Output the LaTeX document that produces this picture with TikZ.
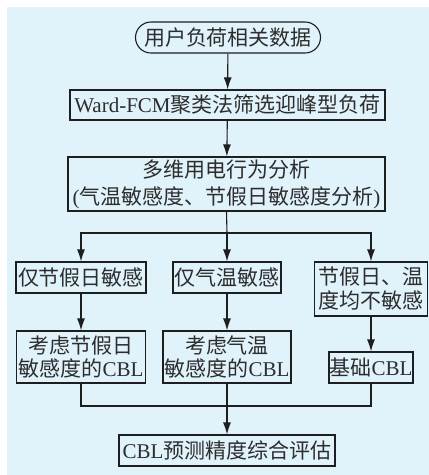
\documentclass[tikz,border=0pt]{standalone}
\usepackage{fontspec}
\setmainfont{Liberation Serif}
\newfontfamily\cjk{Noto Sans CJK SC}
\usetikzlibrary{shapes.misc,arrows.meta}
\definecolor{bgblue}{RGB}{224,242,250}
\definecolor{linec}{RGB}{30,30,30}
\definecolor{textc}{RGB}{45,45,45}
\tikzset{
  box/.style={draw=linec,line width=1.1pt,rectangle,inner sep=0pt,align=center,text=textc,
    font=\fontsize{21}{27}\selectfont},
  term/.style={box,rounded rectangle},
  conn/.style={draw=linec,line width=1.1pt},
  arr/.style={conn,-{Latex[length=12pt,width=8pt]}}
}
\begin{document}
\begin{tikzpicture}[x=1pt,y=-1pt]
\useasboundingbox (0,0) rectangle (429,475);
\fill[bgblue] (7,7) rectangle (429,475);
\node[term,minimum width=185pt,minimum height=31pt] (start) at (228,37.5) {\cjk 用户负荷相关数据};
\node[box,minimum width=315pt,minimum height=30pt] (ward) at (227.5,105) {Ward-FCM{\cjk 聚类法筛选迎峰型负荷}};
\node[box,minimum width=317pt,minimum height=54pt] (multi) at (226.5,184) {{\cjk 多维用电行为分析}\\({\cjk 气温敏感度、节假日敏感度分析})};
\node[box,minimum width=130pt,minimum height=31pt] (a1) at (81,277.5) {\cjk 仅节假日敏感};
\node[box,minimum width=108pt,minimum height=31pt] (a2) at (227,277.5) {\cjk 仅气温敏感};
\node[box,minimum width=113pt,minimum height=54pt,font=\fontsize{21}{24}\selectfont] (a3) at (371,289) {{\cjk 节假日、温}\\{\cjk 度均不敏感}};
\node[box,minimum width=129pt,minimum height=52pt,font=\fontsize{21}{23}\selectfont] (b1) at (81,357) {{\cjk 考虑节假日}\\{\cjk 敏感度的}CBL};
\node[box,minimum width=128pt,minimum height=52pt,font=\fontsize{21}{23}\selectfont] (b2) at (227,357) {{\cjk 考虑气温}\\{\cjk 敏感度的}CBL};
\node[box,minimum width=84pt,minimum height=31pt] (b3) at (371,367.5) {{\cjk 基础}CBL};
\node[box,minimum width=216pt,minimum height=31pt] (final) at (227,450.5) {CBL{\cjk 预测精度综合评估}};
\coordinate (split) at (227,233);
\coordinate (merge) at (227,406);
\draw[arr] (start) -- (ward);
\draw[arr] (ward) -- (multi);
\draw[conn] (multi.south) -- (split);
\draw[arr] (split) -| (a1.north);
\draw[arr] (split) -- (a2.north);
\draw[arr] (split) -| (a3.north);
\draw[arr] (a1) -- (b1);
\draw[arr] (a2) -- (b2);
\draw[arr] (a3) -- (b3);
\draw[conn] (b1.south) |- (merge);
\draw[conn] (b3.south) |- (merge);
\draw[conn] (b2.south) -- (merge);
\draw[arr] (merge) -- (final.north);
\end{tikzpicture}
\end{document}
